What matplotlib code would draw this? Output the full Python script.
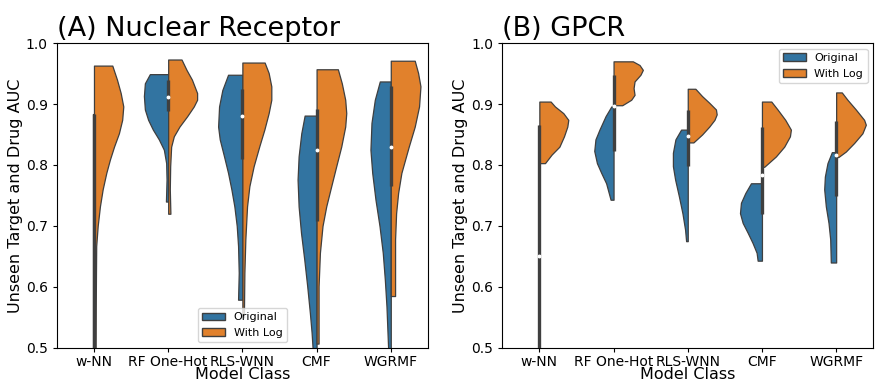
import numpy as np
import matplotlib
matplotlib.use("Agg")
import matplotlib.pyplot as plt
from matplotlib.patches import Patch

# ---- data (violin outlines: y level -> half width) ----
MODELS = ["w-NN", "RF One-Hot", "RLS-WNN", "CMF", "WGRMF"]
HUES = ["Original", "With Log"]

# (A) Nuclear Receptor
NR_ORIG_Y = [
    [0.884, 0.45],
    [0.949, 0.934, 0.913, 0.891, 0.874, 0.858, 0.842, 0.825, 0.803, 0.776, 0.74],
    [0.948, 0.923, 0.896, 0.863, 0.842, 0.814, 0.787, 0.76, 0.732, 0.70, 0.667, 0.623, 0.579],
    [0.881, 0.852, 0.814, 0.776, 0.732, 0.689, 0.645, 0.601, 0.557, 0.525, 0.50, 0.45],
    [0.937, 0.907, 0.869, 0.825, 0.787, 0.743, 0.70, 0.656, 0.612, 0.568, 0.50, 0.45],
]
NR_ORIG_W = [
    [0.008, 0.008],
    [0.247, 0.314, 0.327, 0.314, 0.27, 0.206, 0.126, 0.058, 0.027, 0.022, 0.03],
    [0.193, 0.27, 0.314, 0.327, 0.305, 0.247, 0.193, 0.148, 0.108, 0.076, 0.058, 0.049, 0.058],
    [0.161, 0.206, 0.242, 0.256, 0.242, 0.21, 0.166, 0.126, 0.09, 0.067, 0.054, 0.03],
    [0.148, 0.215, 0.26, 0.274, 0.25, 0.206, 0.152, 0.108, 0.08, 0.058, 0.036, 0.02],
]
NR_LOG_Y = [
    [0.963, 0.94, 0.918, 0.896, 0.874, 0.852, 0.83, 0.809, 0.787, 0.76, 0.732, 0.70, 0.667, 0.623, 0.568, 0.50, 0.45],
    [0.973, 0.956, 0.94, 0.918, 0.907, 0.896, 0.88, 0.863, 0.847, 0.83, 0.798, 0.76, 0.72],
    [0.968, 0.951, 0.929, 0.907, 0.885, 0.858, 0.831, 0.798, 0.765, 0.732, 0.678, 0.623, 0.568, 0.55],
    [0.957, 0.934, 0.907, 0.885, 0.863, 0.83, 0.798, 0.765, 0.732, 0.70, 0.656, 0.601, 0.507],
    [0.971, 0.951, 0.929, 0.896, 0.863, 0.83, 0.787, 0.754, 0.721, 0.678, 0.623, 0.585],
]
NR_LOG_W = [
    [0.247, 0.31, 0.36, 0.395, 0.38, 0.336, 0.27, 0.215, 0.166, 0.117, 0.08, 0.05, 0.03, 0.027, 0.024, 0.022, 0.022],
    [0.18, 0.247, 0.32, 0.39, 0.39, 0.345, 0.256, 0.152, 0.076, 0.04, 0.027, 0.022, 0.03],
    [0.30, 0.354, 0.39, 0.39, 0.354, 0.296, 0.229, 0.152, 0.094, 0.063, 0.04, 0.027, 0.022, 0.022],
    [0.287, 0.34, 0.386, 0.40, 0.386, 0.332, 0.265, 0.197, 0.13, 0.08, 0.045, 0.027, 0.027],
    [0.323, 0.368, 0.40, 0.381, 0.323, 0.242, 0.143, 0.099, 0.072, 0.058, 0.058, 0.058],
]
NR_Q1 = [0.45, 0.888, 0.81, 0.708, 0.766]
NR_Q3 = [0.884, 0.94, 0.925, 0.891, 0.929]
NR_MED = [0.45, 0.911, 0.88, 0.825, 0.83]

# (B) GPCR
GP_ORIG_Y = [
    [0.866, 0.45],
    [0.896, 0.88, 0.858, 0.842, 0.823, 0.803, 0.787, 0.77, 0.743],
    [0.858, 0.842, 0.82, 0.798, 0.776, 0.749, 0.721, 0.694, 0.675],
    [0.77, 0.754, 0.738, 0.721, 0.705, 0.689, 0.672, 0.656, 0.643],
    [0.821, 0.803, 0.781, 0.76, 0.732, 0.705, 0.678, 0.64],
]
GP_ORIG_W = [
    [0.008, 0.008],
    [0.03, 0.108, 0.19, 0.244, 0.26, 0.224, 0.166, 0.1, 0.04],
    [0.09, 0.166, 0.2, 0.2, 0.17, 0.12, 0.072, 0.036, 0.022],
    [0.148, 0.224, 0.283, 0.296, 0.26, 0.193, 0.126, 0.072, 0.058],
    [0.058, 0.117, 0.152, 0.161, 0.139, 0.103, 0.08, 0.072],
]
GP_LOG_Y = [
    [0.904, 0.896, 0.885, 0.874, 0.863, 0.847, 0.83, 0.817, 0.803],
    [0.97, 0.964, 0.956, 0.948, 0.937, 0.926, 0.915, 0.907, 0.898],
    [0.925, 0.913, 0.902, 0.891, 0.883, 0.874, 0.863, 0.85, 0.837],
    [0.904, 0.891, 0.874, 0.858, 0.847, 0.83, 0.814, 0.797],
    [0.919, 0.907, 0.891, 0.874, 0.866, 0.852, 0.836, 0.822, 0.813],
]
GP_LOG_W = [
    [0.152, 0.21, 0.323, 0.39, 0.377, 0.332, 0.27, 0.165, 0.076],
    [0.26, 0.35, 0.395, 0.363, 0.283, 0.27, 0.283, 0.238, 0.117],
    [0.103, 0.193, 0.29, 0.38, 0.39, 0.36, 0.29, 0.193, 0.076],
    [0.126, 0.21, 0.314, 0.39, 0.377, 0.3, 0.188, 0.031],
    [0.076, 0.152, 0.265, 0.377, 0.4, 0.354, 0.242, 0.13, 0.03],
]
GP_Q1 = [0.45, 0.823, 0.798, 0.719, 0.749]
GP_Q3 = [0.866, 0.948, 0.89, 0.862, 0.872]
GP_MED = [0.651, 0.897, 0.847, 0.784, 0.817]

BLUE = "#3274a1"
ORANGE = "#e1812c"
GRAY = "#3f3f3f"


def draw_panel(ax, title, orig_y, orig_w, log_y, log_w, q1, q3, med, legend_loc):
    for i in range(len(MODELS)):
        y = np.array(orig_y[i])
        w = np.array(orig_w[i])
        ax.fill_betweenx(y, i - w, i, facecolor=BLUE, edgecolor=GRAY, linewidth=0.9)
        y = np.array(log_y[i])
        w = np.array(log_w[i])
        ax.fill_betweenx(y, i, i + w, facecolor=ORANGE, edgecolor=GRAY, linewidth=0.9)
        # inner box: IQR as a thick line, median as a white dot
        ax.plot([i, i], [q1[i], q3[i]], color=GRAY, linewidth=2.4, solid_capstyle="butt", zorder=3)
        ax.plot([i], [med[i]], "o", color="white", markersize=1.8, zorder=4)

    ax.set_xlim(-0.5, len(MODELS) - 0.5)
    ax.set_ylim(0.5, 1.0)
    ax.set_xticks(range(len(MODELS)))
    ax.set_xticklabels(MODELS)
    ax.set_yticks([0.5, 0.6, 0.7, 0.8, 0.9, 1.0])
    ax.tick_params(labelsize=10, length=3)
    ax.tick_params(axis="x", pad=2)
    ax.set_xlabel("Model Class", fontsize=11.5, labelpad=-1)
    ax.set_ylabel("Unseen Target and Drug AUC", fontsize=11.5, labelpad=2)
    ax.set_title(title, loc="left", fontsize=19.5, pad=5)
    handles = [Patch(facecolor=BLUE, edgecolor=GRAY, label=HUES[0]),
               Patch(facecolor=ORANGE, edgecolor=GRAY, label=HUES[1])]
    ax.legend(handles=handles, loc=legend_loc, fontsize=8)


fig = plt.figure(figsize=(8.75, 3.81), dpi=100)
ax1 = fig.add_axes([0.065, 0.087, 0.424, 0.80])
ax2 = fig.add_axes([0.574, 0.087, 0.424, 0.80])

draw_panel(ax1, "(A) Nuclear Receptor", NR_ORIG_Y, NR_ORIG_W, NR_LOG_Y, NR_LOG_W,
           NR_Q1, NR_Q3, NR_MED, "lower center")
draw_panel(ax2, "(B) GPCR", GP_ORIG_Y, GP_ORIG_W, GP_LOG_Y, GP_LOG_W,
           GP_Q1, GP_Q3, GP_MED, "upper right")

fig.savefig("out.png", dpi=100)
